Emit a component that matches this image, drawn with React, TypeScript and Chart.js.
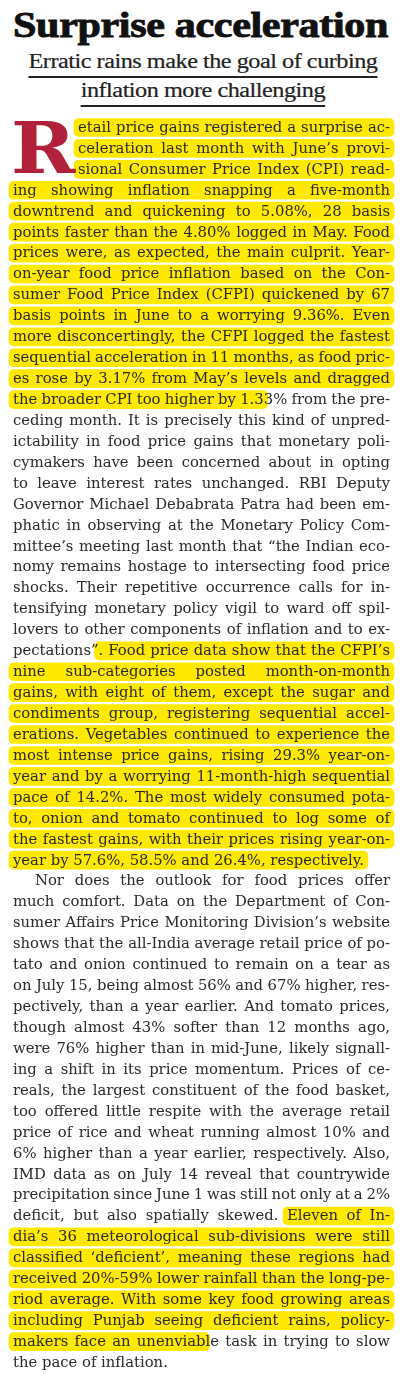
import React, { useEffect, useRef } from "react";
import { Chart, registerables } from "chart.js";

Chart.register(...registerables);

const TITLE = "Surprise acceleration";
const SUBTITLE_LINES = ["Erratic rains make the goal of curbing", "inflation more challenging"];
const DROP_CAP = "R";

const BODY_LINES = [
  "etail price gains registered a surprise ac-",
  "celeration last month with June’s provi-",
  "sional Consumer Price Index (CPI) read-",
  "ing showing inflation snapping a five-month",
  "downtrend and quickening to 5.08%, 28 basis",
  "points faster than the 4.80% logged in May. Food",
  "prices were, as expected, the main culprit. Year-",
  "on-year food price inflation based on the Con-",
  "sumer Food Price Index (CFPI) quickened by 67",
  "basis points in June to a worrying 9.36%. Even",
  "more disconcertingly, the CFPI logged the fastest",
  "sequential acceleration in 11 months, as food pric-",
  "es rose by 3.17% from May’s levels and dragged",
  "the broader CPI too higher by 1.33% from the pre-",
  "ceding month. It is precisely this kind of unpred-",
  "ictability in food price gains that monetary poli-",
  "cymakers have been concerned about in opting",
  "to leave interest rates unchanged. RBI Deputy",
  "Governor Michael Debabrata Patra had been em-",
  "phatic in observing at the Monetary Policy Com-",
  "mittee’s meeting last month that “the Indian eco-",
  "nomy remains hostage to intersecting food price",
  "shocks. Their repetitive occurrence calls for in-",
  "tensifying monetary policy vigil to ward off spil-",
  "lovers to other components of inflation and to ex-",
  "pectations”. Food price data show that the CFPI’s",
  "nine sub-categories posted month-on-month",
  "gains, with eight of them, except the sugar and",
  "condiments group, registering sequential accel-",
  "erations. Vegetables continued to experience the",
  "most intense price gains, rising 29.3% year-on-",
  "year and by a worrying 11-month-high sequential",
  "pace of 14.2%. The most widely consumed pota-",
  "to, onion and tomato continued to log some of",
  "the fastest gains, with their prices rising year-on-",
  "year by 57.6%, 58.5% and 26.4%, respectively.",
  "Nor does the outlook for food prices offer",
  "much comfort. Data on the Department of Con-",
  "sumer Affairs Price Monitoring Division’s website",
  "shows that the all-India average retail price of po-",
  "tato and onion continued to remain on a tear as",
  "on July 15, being almost 56% and 67% higher, res-",
  "pectively, than a year earlier. And tomato prices,",
  "though almost 43% softer than 12 months ago,",
  "were 76% higher than in mid-June, likely signall-",
  "ing a shift in its price momentum. Prices of ce-",
  "reals, the largest constituent of the food basket,",
  "too offered little respite with the average retail",
  "price of rice and wheat running almost 10% and",
  "6% higher than a year earlier, respectively. Also,",
  "IMD data as on July 14 reveal that countrywide",
  "precipitation since June 1 was still not only at a 2%",
  "deficit, but also spatially skewed. Eleven of In-",
  "dia’s 36 meteorological sub-divisions were still",
  "classified ‘deficient’, meaning these regions had",
  "received 20%-59% lower rainfall than the long-pe-",
  "riod average. With some key food growing areas",
  "including Punjab seeing deficient rains, policy-",
  "makers face an unenviable task in trying to slow",
  "the pace of inflation.",
];

// lines ending a paragraph (left aligned, not justified)
const PARA_END_LINES = [35, 59];
// first line of second paragraph (indented)
const INDENT_LINES = [36];
// lines beside the drop cap
const DROP_CAP_LINES = [0, 1, 2];

// highlighted passages: fully highlighted line ranges and partial lines (by text marker)
const FULL_HIGHLIGHT_RANGES: [number, number][] = [
  [0, 12],
  [26, 35],
  [53, 57],
];
const PARTIAL_HIGHLIGHTS: { line: number; start?: string; end?: string }[] = [
  { line: 13, end: "by 1.3" },
  { line: 25, start: ". Food" },
  { line: 52, start: "Eleven" },
  { line: 58, end: "unenviab" },
];

const W = 406;
const H = 1381;
const LINE_COUNT = BODY_LINES.length;
const CANVAS_H = 1256;
const LINE_H = CANVAS_H / LINE_COUNT;
const BODY_SIZE = 14.8;
const BODY_TOP = 131.5 - (1.164 * BODY_SIZE > 21 ? 0 : (21 - 1.164 * BODY_SIZE) / 2) - 0.928 * BODY_SIZE;
const CANVAS_TOP = 116.5;
const TEXT_LEFT = 13;
const TEXT_RIGHT = 390;
const DROP_TEXT_LEFT = 78;
const INDENT_LEFT = 35;
const HL_PAD = 4;
const BODY_FONT = "'DejaVu Serif', serif";
const TEXT_COLOR = "#2a2a2a";
const HL_COLOR = "#ffe900";
const CAP_COLOR = "#b2213b";

function lineLeft(i: number) {
  if (DROP_CAP_LINES.includes(i)) return DROP_TEXT_LEFT;
  if (INDENT_LINES.includes(i)) return INDENT_LEFT;
  return TEXT_LEFT;
}

function justify(el: HTMLElement, target: number) {
  el.style.wordSpacing = "0px";
  el.style.letterSpacing = "0px";
  const w = el.getBoundingClientRect().width;
  const text = el.textContent || "";
  const spaces = (text.match(/ /g) || []).length;
  const diff = target - w;
  if (spaces === 0) {
    el.style.letterSpacing = diff / text.length + "px";
    return;
  }
  if (diff >= 0) {
    el.style.wordSpacing = diff / spaces + "px";
  } else {
    const ws = Math.max(diff / spaces, -1.2);
    const rest = diff - ws * spaces;
    el.style.wordSpacing = ws + "px";
    el.style.letterSpacing = rest / text.length + "px";
  }
}

export default function App() {
  const rootRef = useRef<HTMLDivElement>(null);
  const canvasRef = useRef<HTMLCanvasElement>(null);
  const titleRef = useRef<HTMLSpanElement>(null);
  const subRefs = useRef<(HTMLSpanElement | null)[]>([]);
  const lineRefs = useRef<(HTMLSpanElement | null)[]>([]);

  useEffect(() => {
    const root = rootRef.current!;
    // fit title
    const t = titleRef.current!;
    t.style.transform = "none";
    const tw = t.getBoundingClientRect().width;
    t.style.transform = `scaleX(${375 / tw})`;
    // fit subtitle
    const s0 = subRefs.current[0]!;
    s0.style.transform = "none";
    const sw = s0.getBoundingClientRect().width;
    const sScale = 349 / sw;
    subRefs.current.forEach((s) => {
      if (s) s.style.transform = `scaleX(${sScale})`;
    });

    // justify lines
    lineRefs.current.forEach((el, i) => {
      if (!el) return;
      if (PARA_END_LINES.includes(i)) return;
      justify(el, TEXT_RIGHT - lineLeft(i));
    });

    // measure highlighted segments
    const base = root.getBoundingClientRect();
    const segs: ([number, number] | null)[] = BODY_LINES.map(() => null);
    const measure = (i: number, s: number, e: number) => {
      const el = lineRefs.current[i];
      if (!el || !el.firstChild) return;
      const r = document.createRange();
      r.setStart(el.firstChild, s);
      r.setEnd(el.firstChild, e);
      const rect = r.getBoundingClientRect();
      segs[i] = [rect.left - base.left - HL_PAD, rect.right - base.left + HL_PAD];
    };
    FULL_HIGHLIGHT_RANGES.forEach(([a, b]) => {
      for (let i = a; i <= b; i++) measure(i, 0, BODY_LINES[i].length);
    });
    PARTIAL_HIGHLIGHTS.forEach((p) => {
      const txt = BODY_LINES[p.line];
      const s = p.start ? txt.indexOf(p.start) : 0;
      const e = p.end ? txt.indexOf(p.end) + p.end.length : txt.length;
      measure(p.line, s, e);
    });

    const chart = new Chart(canvasRef.current!, {
      type: "bar",
      data: {
        labels: BODY_LINES.map((_, i) => String(i + 1)),
        datasets: [
          {
            data: segs as any,
            backgroundColor: HL_COLOR,
            borderRadius: 5,
            borderSkipped: false,
            barThickness: 18,
          },
        ],
      },
      options: {
        animation: false,
        responsive: false,
        indexAxis: "y",
        events: [],
        layout: { padding: 0 },
        plugins: { legend: { display: false }, tooltip: { enabled: false } },
        scales: {
          x: { type: "linear", min: 0, max: W, display: false },
          y: { type: "category", display: false, offset: true },
        },
      },
    });
    return () => chart.destroy();
  }, []);

  return (
    <div
      ref={rootRef}
      style={{
        position: "absolute",
        left: 0,
        top: 0,
        width: W,
        height: H,
        background: "#fff",
        overflow: "hidden",
      }}
    >
      {/* title */}
      <div
        style={{
          position: "absolute",
          left: 13,
          top: 6.7,
          whiteSpace: "nowrap",
          fontFamily: "'Liberation Serif', serif",
          fontWeight: 700,
          fontSize: 36,
          lineHeight: "36px",
          color: "#111",
        }}
      >
        <span
          ref={titleRef}
          style={{
            display: "inline-block",
            transformOrigin: "left center",
            WebkitTextStroke: "0.9px #111",
            letterSpacing: "-0.3px",
          }}
        >
          {TITLE}
        </span>
      </div>

      {/* subtitle */}
      {SUBTITLE_LINES.map((s, i) => (
        <div
          key={i}
          style={{
            position: "absolute",
            left: 0,
            width: W,
            top: 46.75 + i * 29,
            textAlign: "center",
            whiteSpace: "nowrap",
            fontFamily: "'Liberation Serif', serif",
            fontSize: 20,
            lineHeight: "29px",
            color: "#222",
          }}
        >
          <span
            ref={(el) => {
              subRefs.current[i] = el;
            }}
            style={{
              display: "inline-block",
              transformOrigin: "center center",
              textDecoration: "underline",
              textUnderlineOffset: "8px",
              textDecorationThickness: "1.5px",
              letterSpacing: "-0.4px",
              WebkitTextStroke: "0.2px #222",
            }}
          >
            {s}
          </span>
        </div>
      ))}

      {/* highlights drawn with Chart.js */}
      <canvas
        ref={canvasRef}
        width={W}
        height={CANVAS_H}
        style={{ position: "absolute", left: 0, top: CANVAS_TOP, width: W, height: CANVAS_H }}
      />

      {/* drop cap */}
      <div
        style={{
          position: "absolute",
          left: 11,
          top: 113.8,
          fontFamily: "'DejaVu Serif', serif",
          fontWeight: 700,
          fontSize: 70.5,
          lineHeight: "70.5px",
          color: CAP_COLOR,
          transform: "scaleX(1.1)",
          transformOrigin: "left top",
        }}
      >
        {DROP_CAP}
      </div>

      {/* body lines */}
      {BODY_LINES.map((line, i) => (
        <div
          key={i}
          style={{
            position: "absolute",
            left: lineLeft(i),
            top: BODY_TOP + i * LINE_H,
            whiteSpace: "pre",
            fontFamily: BODY_FONT,
            fontSize: BODY_SIZE,
            lineHeight: "21px",
            color: TEXT_COLOR,
          }}
        >
          <span
            ref={(el) => {
              lineRefs.current[i] = el;
            }}
          >
            {line}
          </span>
        </div>
      ))}
    </div>
  );
}
